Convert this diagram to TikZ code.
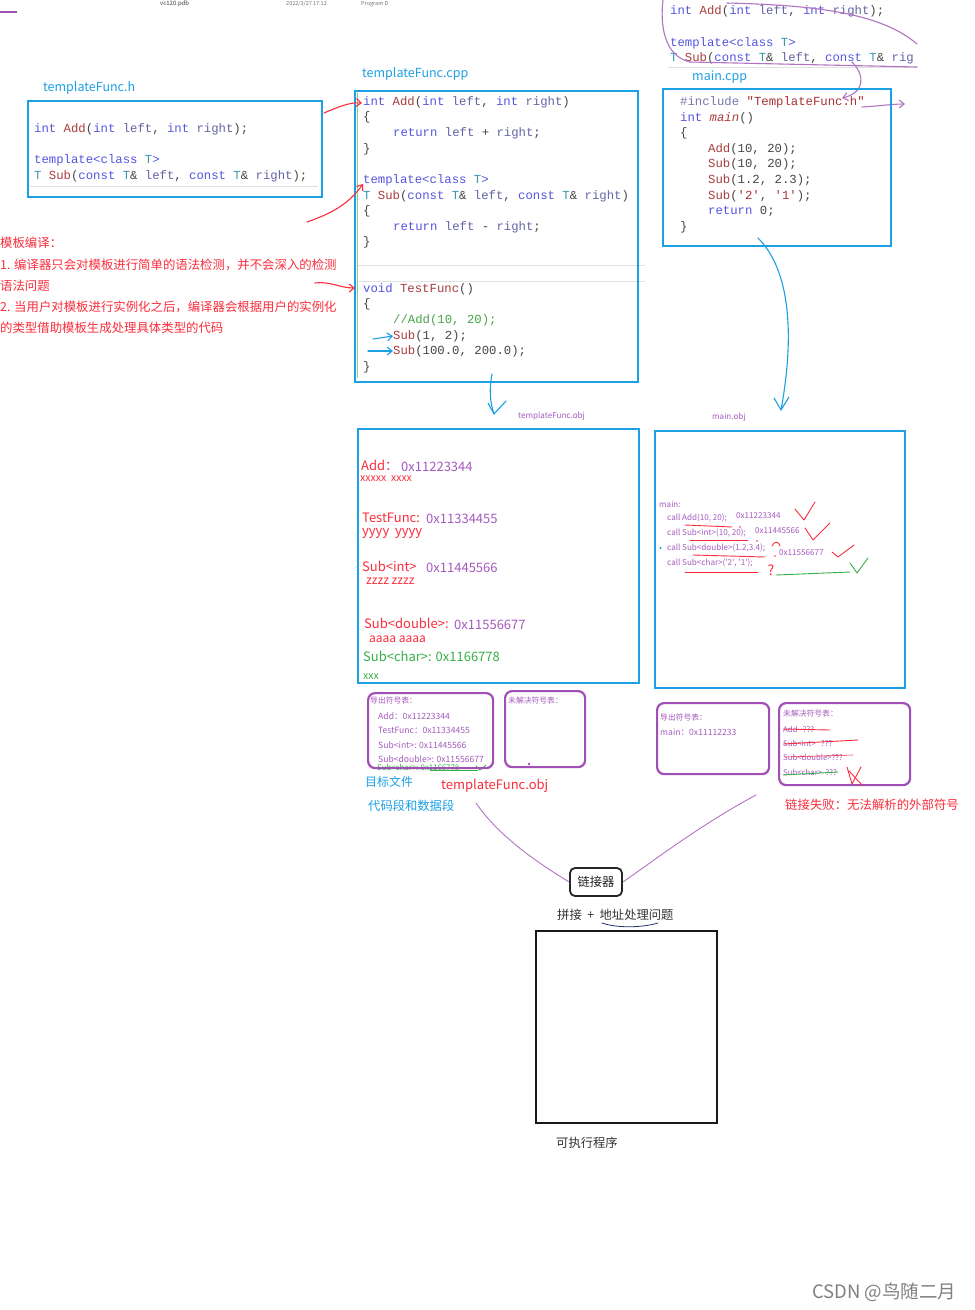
\documentclass[tikz,border=0pt]{standalone}
\usepackage{fontspec}
\setmainfont{Noto Sans CJK SC}
\setmonofont{Liberation Mono}
\usetikzlibrary{arrows.meta}
\definecolor{boxblue}{RGB}{28,160,228}
\definecolor{boxpurple}{RGB}{160,80,180}
\definecolor{txtred}{RGB}{250,45,60}
\definecolor{txtpurple}{RGB}{165,90,190}
\definecolor{txtgreen}{RGB}{55,175,70}
\definecolor{ckwc}{RGB}{85,85,225}
\definecolor{cfnc}{RGB}{170,60,60}
\definecolor{ctyc}{RGB}{60,150,170}
\definecolor{cidc}{RGB}{100,100,165}
\definecolor{cpuc}{RGB}{70,70,70}
\definecolor{cstrc}{RGB}{170,50,50}
\definecolor{ccmc}{RGB}{70,165,70}
\definecolor{cprec}{RGB}{120,120,170}
\definecolor{faint}{RGB}{225,225,225}
\definecolor{navy}{RGB}{40,50,110}
\newcommand\ckw[1]{\textcolor{ckwc}{#1}}
\newcommand\cfn[1]{\textcolor{cfnc}{#1}}
\newcommand\cty[1]{\textcolor{ctyc}{#1}}
\newcommand\cid[1]{\textcolor{cidc}{#1}}
\newcommand\cstr[1]{\textcolor{cstrc}{#1}}
\newcommand\ccm[1]{\textcolor{ccmc}{#1}}
\newcommand\cpre[1]{\textcolor{cprec}{#1}}
\begin{document}
\begin{tikzpicture}[x=1pt,y=-1pt,
  cline/.style={anchor=west,inner sep=0pt,text=cpuc,font=\ttfamily\fontsize{12.3}{14}\selectfont},
  bluebox/.style={draw=boxblue,line width=2.2pt,anchor=north west,inner sep=0pt},
  purplebox/.style={draw=boxpurple,line width=2.2pt,rounded corners=7pt,anchor=north west,inner sep=0pt},
  filelbl/.style={anchor=west,inner sep=0pt,text=boxblue,font=\fontsize{12.5}{14}\selectfont},
  rednote/.style={anchor=west,inner sep=0pt,text=txtred,font=\fontsize{12.4}{14}\selectfont},
  objsym/.style={anchor=west,inner sep=0pt,font=\fontsize{13}{15}\selectfont},
  objsmall/.style={anchor=west,inner sep=0pt,font=\fontsize{10.5}{12}\selectfont},
  smalltxt/.style={anchor=west,inner sep=0pt,text=txtpurple,font=\fontsize{8.1}{9}\selectfont},
  tbltxt/.style={anchor=west,inner sep=0pt,text=txtpurple,font=\fontsize{8.6}{10}\selectfont},
  plain/.style={anchor=west,inner sep=0pt,text=black!80,font=\fontsize{12.3}{14}\selectfont},
  handpen/.style={line width=1.1pt,line cap=round,line join=round},
  barb/.style={-{Straight Barb[length=5pt,width=8pt]}},
]
\useasboundingbox[fill=white] (0,0) rectangle (975,1310);

% header
\draw[boxpurple,line width=1.5pt] (0,12) coordinate (hl1) -- (17,12) coordinate (hl2);
\node[anchor=west,inner sep=0pt,text=black!75,font=\fontsize{6}{7}\selectfont] (hdr1) at (160,4) {vc120.pdb};
\node[anchor=west,inner sep=0pt,text=black!55,font=\fontsize{5.5}{7}\selectfont] (hdr2) at (286,4) {2022/3/27 17:12};
\node[anchor=west,inner sep=0pt,text=black!55,font=\fontsize{5.5}{7}\selectfont] (hdr3) at (361,4) {Program D};

% ---------- templateFunc.h
\node[filelbl] (lh) at (43,88) {templateFunc.h};
\node[bluebox,minimum width=294pt,minimum height=96pt] (hbox) at (27,100) {};
\draw[faint,line width=0.8pt] (30,186) -- (318,186);
\node[cline] (h1) at (34,129) {\ckw{int} \cfn{Add}(\ckw{int} \cid{left}, \ckw{int} \cid{right});};
\node[cline] (h2) at (34,160) {\ckw{template<class} \cty{T}\ckw{>}};
\node[cline] (h3) at (34,176) {\cty{T} \cfn{Sub}(\ckw{const} \cty{T}\& \cid{left}, \ckw{const} \cty{T}\& \cid{right});};

% ---------- templateFunc.cpp
\node[filelbl] (lcpp) at (362,74) {templateFunc.cpp};
\draw[faint,line width=0.8pt] (357,265) -- (645,265);
\draw[faint,line width=0.8pt] (357,281) -- (645,281);
\draw[txtgreen!60,line width=0.9pt] (357.5,93) -- (357.5,378);
\node[bluebox,minimum width=283pt,minimum height=291pt] (cppbox) at (354,90) {};
\node[cline] (p1) at (363,102) {\ckw{int} \cfn{Add}(\ckw{int} \cid{left}, \ckw{int} \cid{right})};
\node[cline] (p2) at (363,117) {\{};
\node[cline] (p3) at (393,133) {\ckw{return} \cid{left} + \cid{right};};
\node[cline] (p4) at (363,149) {\}};
\node[cline] (p5) at (363,180) {\ckw{template<class} \cty{T}\ckw{>}};
\node[cline] (p6) at (363,196) {\cty{T} \cfn{Sub}(\ckw{const} \cty{T}\& \cid{left}, \ckw{const} \cty{T}\& \cid{right})};
\node[cline] (p7) at (363,211) {\{};
\node[cline] (p8) at (393,227) {\ckw{return} \cid{left} - \cid{right};};
\node[cline] (p9) at (363,242) {\}};
\node[cline] (p10) at (363,289) {\ckw{void} \cfn{TestFunc}()};
\node[cline] (p11) at (363,304) {\{};
\node[cline] (p12) at (393,320) {\ccm{//Add(10, 20);}};
\node[cline] (p13) at (393,336) {\cfn{Sub}(1, 2);};
\node[cline] (p14) at (393,351) {\cfn{Sub}(100.0, 200.0);};
\node[cline] (p15) at (363,367) {\}};

% red arrows from header / notes
\coordinate (r1s) at (324,113);
\coordinate (r1e) at (362,103);
\draw[handpen,txtred,barb] (r1s) .. controls (338,107) and (350,102) .. (r1e);
\coordinate (r2s) at (307,222);
\coordinate (r2e) at (363,184);
\draw[handpen,txtred,barb] (r2s) .. controls (330,214) and (348,205) .. (r2e);
\coordinate (r3s) at (315,283);
\coordinate (r3e) at (355,288);
\draw[handpen,txtred,barb] (r3s) .. controls (330,281) and (340,288) .. (r3e);

% blue call arrows
\coordinate (b1s) at (373,339);
\draw[handpen,boxblue,barb] (b1s) -- (p13.west);
\coordinate (b2s) at (368,351);
\draw[handpen,boxblue,barb] (b2s) -- (p14.west);

% ---------- top-right header copy
\node[cline] (t1) at (670,11) {\ckw{int} \cfn{Add}(\ckw{int} \cid{left}, \ckw{int} \cid{right});};
\node[cline] (t2) at (670,43) {\ckw{template<class} \cty{T}\ckw{>}};
\node[cline] (t3) at (670,58) {\cty{T} \cfn{Sub}(\ckw{const} \cty{T}\& \cid{left}, \ckw{const} \cty{T}\& \cid{rig}};
\draw[faint,line width=0.8pt] (668,67.5) -- (917,67.5);
\draw[handpen,boxpurple!80] (663,0) .. controls (660,25) and (664,56) .. (690,62) -- (917,67);
\draw[handpen,boxpurple!80] (727,3) .. controls (810,5) and (880,12) .. (917,44);
\coordinate (pc1) at (852,62);
\coordinate (pc2) at (842,98);
\draw[handpen,boxpurple!80,barb] (pc1) .. controls (866,76) and (864,93) .. (pc2);
\coordinate (pc3) at (862,107);
\coordinate (pc4) at (905,104);
\draw[handpen,boxpurple!80,barb] (pc3) .. controls (880,106) and (892,104) .. (pc4);

% ---------- main.cpp
\node[filelbl] (lmain) at (692,77) {main.cpp};
\node[bluebox,minimum width=228pt,minimum height=157pt] (mainbox) at (662,88) {};
\node[cline] (m1) at (680,102) {\cpre{\#include} \cstr{"TemplateFunc.h"}};
\node[cline] (m2) at (680,118) {\ckw{int} \cfn{\textit{main}}()};
\node[cline] (m3) at (680,133) {\{};
\node[cline] (m4) at (708,149) {\cfn{Add}(10, 20);};
\node[cline] (m5) at (708,164) {\cfn{Sub}(10, 20);};
\node[cline] (m6) at (708,180) {\cfn{Sub}(1.2, 2.3);};
\node[cline] (m7) at (708,196) {\cfn{Sub}(\cstr{'2'}, \cstr{'1'});};
\node[cline] (m8) at (708,211) {\ckw{return} 0;};
\node[cline] (m9) at (680,227) {\}};

% ---------- red notes
\node[rednote] (n1) at (0,243) {模板编译：};
\node[rednote] (n2) at (0,265) {1. 编译器只会对模板进行简单的语法检测，并不会深入的检测};
\node[rednote] (n3) at (0,286) {语法问题};
\node[rednote] (n4) at (0,307) {2. 当用户对模板进行实例化之后，编译器会根据用户的实例化};
\node[rednote] (n5) at (0,328) {的类型借助模板生成处理具体类型的代码};

% ---------- compile arrows
\coordinate (ca1) at (492,374);
\coordinate (ca2) at (494,414);
\draw[handpen,boxblue] (ca1) .. controls (489,390) and (490,402) .. (ca2) -- (506,401);
\draw[handpen,boxblue] (ca2) -- (488,403);
\coordinate (cb1) at (758,238);
\coordinate (cb2) at (781,410);
\draw[handpen,boxblue] (cb1) .. controls (795,275) and (792,350) .. (cb2) -- (789,397);
\draw[handpen,boxblue] (cb2) -- (774,398);
\node[smalltxt] (lto) at (518,416) {templateFunc.obj};
\node[smalltxt] (lmo) at (712,417) {main.obj};

% ---------- templateFunc.obj box
\node[bluebox,minimum width=281pt,minimum height=254pt] (tobj) at (357,428) {};
\node[objsym,text=txtred] (o1) at (361,465) {Add：};
\node[objsym,text=txtpurple] (o1a) at (401,467) {0x11223344};
\node[objsmall,text=txtred] (o1b) at (360,479) {xxxxx\ \ xxxx};
\node[objsym,text=txtred] (o2) at (362,518) {TestFunc:};
\node[objsym,text=txtpurple] (o2a) at (426,519) {0x11334455};
\node[objsym,text=txtred] (o2b) at (362,533) {yyyy\ \ yyyy};
\node[objsym,text=txtred] (o3) at (362,566) {Sub<int>};
\node[objsym,text=txtpurple] (o3a) at (426,568) {0x11445566};
\node[objsmall,text=txtred,font=\fontsize{12}{14}\selectfont] (o3b) at (366,581) {zzzz zzzz};
\node[objsym,text=txtred] (o4) at (364,623) {Sub<double>:};
\node[objsym,text=txtpurple] (o4a) at (454,625) {0x11556677};
\node[objsym,text=txtred,font=\fontsize{12}{14}\selectfont] (o4b) at (369,639) {aaaa aaaa};
\node[objsym,text=txtgreen] (o5) at (363,656) {Sub<char>: 0x1166778};
\node[objsmall,text=txtgreen] (o5b) at (363,677) {xxx};

% ---------- main.obj box
\node[bluebox,minimum width=250pt,minimum height=257pt] (mobj) at (654,430) {};
\node[smalltxt] (q0) at (659,504) {main:};
\node[smalltxt] (q1) at (667,518) {call Add(10, 20);};
\node[smalltxt] (q1a) at (736,516) {0x11223344};
\node[smalltxt] (q2) at (667,533) {call Sub<int>(10, 20);};
\node[smalltxt] (q2a) at (755,531) {0x11445566};
\node[smalltxt] (q3) at (667,548) {call Sub<double>(1.2,3.4);};
\node[smalltxt] (q3a) at (779,553) {0x11556677};
\node[smalltxt] (q4) at (667,563) {call Sub<char>(\textquotesingle2\textquotesingle, \textquotesingle1\textquotesingle);};
\fill[boxblue] (660.5,548) circle (1.1);
\begin{scope}[handpen,txtred,line width=0.9pt]
  \draw (685,525) -- (732,527);
  \draw (690,540) -- (748,540);
  \draw (693,555) -- (765,557);
  \draw (685,572) -- (758,572);
  \draw (795,509) -- (804,520) -- (815,502);
  \draw (805,528) -- (813,540) -- (830,523);
  \draw (832,552) -- (838,557) -- (854,545);
  \draw (772,546) .. controls (774,541) and (779,541) .. (780,546);
  \fill (740,527) circle (0.9);
  \fill (757,541) circle (0.9);
  \fill (775,556) circle (0.9);
\end{scope}
\node[anchor=center,inner sep=0pt,text=txtred,font=\fontsize{14}{16}\selectfont] (qm) at (771,570) {?};
\draw[handpen,txtgreen,line width=0.9pt] (776,575) -- (850,572);
\draw[handpen,txtgreen,line width=0.9pt] (850,563) -- (857,573) -- (868,558);

% ---------- symbol tables of templateFunc.obj
\node[tbltxt,text=txtgreen,font=\fontsize{7.8}{9}\selectfont] (e5) at (377,767) {Sub<char>: 0x1166778};
\draw[txtgreen,line width=0.7pt] (430,770) -- (478,770);
\draw[handpen,txtgreen,line width=0.8pt] (476,766) -- (480,770) -- (486,765);
\node[purplebox,minimum width=125pt,minimum height=75pt] (texp) at (367,692) {};
\node[tbltxt,font=\fontsize{7.8}{9}\selectfont] (e0) at (370,701) {导出符号表：};
\node[tbltxt] (e1) at (378,716) {Add：0x11223344};
\node[tbltxt] (e2) at (378,730) {TestFunc：0x11334455};
\node[tbltxt] (e3) at (378,745) {Sub<int>: 0x11445566};
\node[tbltxt] (e4) at (378,759) {Sub<double>: 0x11556677};
\node[purplebox,minimum width=80pt,minimum height=76pt] (tunr) at (504,690) {};
\node[tbltxt,font=\fontsize{7.8}{9}\selectfont] (u0) at (508,701) {未解决符号表：};
\fill[boxpurple] (529,764) circle (1.3);
\node[anchor=west,inner sep=0pt,text=boxblue,font=\fontsize{12}{14}\selectfont] (lobj) at (365,782) {目标文件};
\node[anchor=west,inner sep=0pt,text=txtred,font=\fontsize{13}{15}\selectfont] (ltf) at (441,786) {templateFunc.obj};
\node[anchor=west,inner sep=0pt,text=boxblue,font=\fontsize{12.3}{14}\selectfont] (lseg) at (368,806) {代码段和数据段};

% ---------- symbol tables of main.obj
\node[purplebox,minimum width=112pt,minimum height=71pt] (mexp) at (656,702) {};
\node[tbltxt,font=\fontsize{7.8}{9}\selectfont] (f0) at (660,718) {导出符号表：};
\node[tbltxt] (f1) at (660,732) {main：0x11112233};
\node[purplebox,minimum width=131pt,minimum height=82pt] (munr) at (778,702) {};
\node[tbltxt,font=\fontsize{7.8}{9}\selectfont] (g0) at (783,714) {未解决符号表：};
\node[tbltxt,font=\fontsize{7.8}{9}\selectfont] (g1) at (783,729) {Add\ \ \ ???};
\node[tbltxt,font=\fontsize{7.8}{9}\selectfont] (g2) at (783,743) {Sub<int>\ \ \ ???};
\node[tbltxt,font=\fontsize{7.8}{9}\selectfont] (g3) at (783,757) {Sub<double>???};
\node[tbltxt,font=\fontsize{7.8}{9}\selectfont] (g4) at (783,772) {Sub<char>\ \ ???};
\begin{scope}[handpen,txtred,line width=0.9pt]
  \draw (783,729) -- (830,730);
  \draw (783,744) -- (858,740);
  \draw[line width=0.6pt] (785,757) -- (853,755);
  \draw (847,767) -- (852,784) -- (861,767);
  \draw (849,771) -- (862,785);
\end{scope}
\draw[handpen,txtgreen,line width=0.9pt] (783,775) -- (838,772);
\node[rednote] (fail) at (785,805) {链接失败：无法解析的外部符号};

% ---------- linker
\node[draw=black!85,line width=1.8pt,rounded corners=5pt,minimum width=52pt,minimum height=28pt,inner sep=0pt,text=black!85,font=\fontsize{12.3}{14}\selectfont] (linker) at (596,882) {链接器};
\coordinate (lk1) at (476,803);
\coordinate (lk2) at (756,795);
\draw[handpen,boxpurple!80,line width=0.9pt] (lk1) .. controls (500,838) and (540,864) .. (linker.west);
\draw[handpen,boxpurple!80,line width=0.9pt] (lk2) .. controls (700,825) and (652,862) .. (linker.east);
\node[plain] (lkdesc) at (557,915) {拼接\ \ +\ \ 地址处理问题};
\draw[handpen,navy,line width=0.8pt] (602,923) .. controls (616,928) and (641,928) .. (658,923);
\node[draw=black!90,line width=2pt,anchor=north west,minimum width=181pt,minimum height=192pt,inner sep=0pt] (exe) at (535,930) {};
\node[plain] (lexe) at (556,1143) {可执行程序};

% watermark
\node[anchor=west,inner sep=0pt,text=black!50,font=\fontsize{18.5}{20}\selectfont] (wm) at (812,1292) {CSDN @鸟随二月};
\end{tikzpicture}
\end{document}
